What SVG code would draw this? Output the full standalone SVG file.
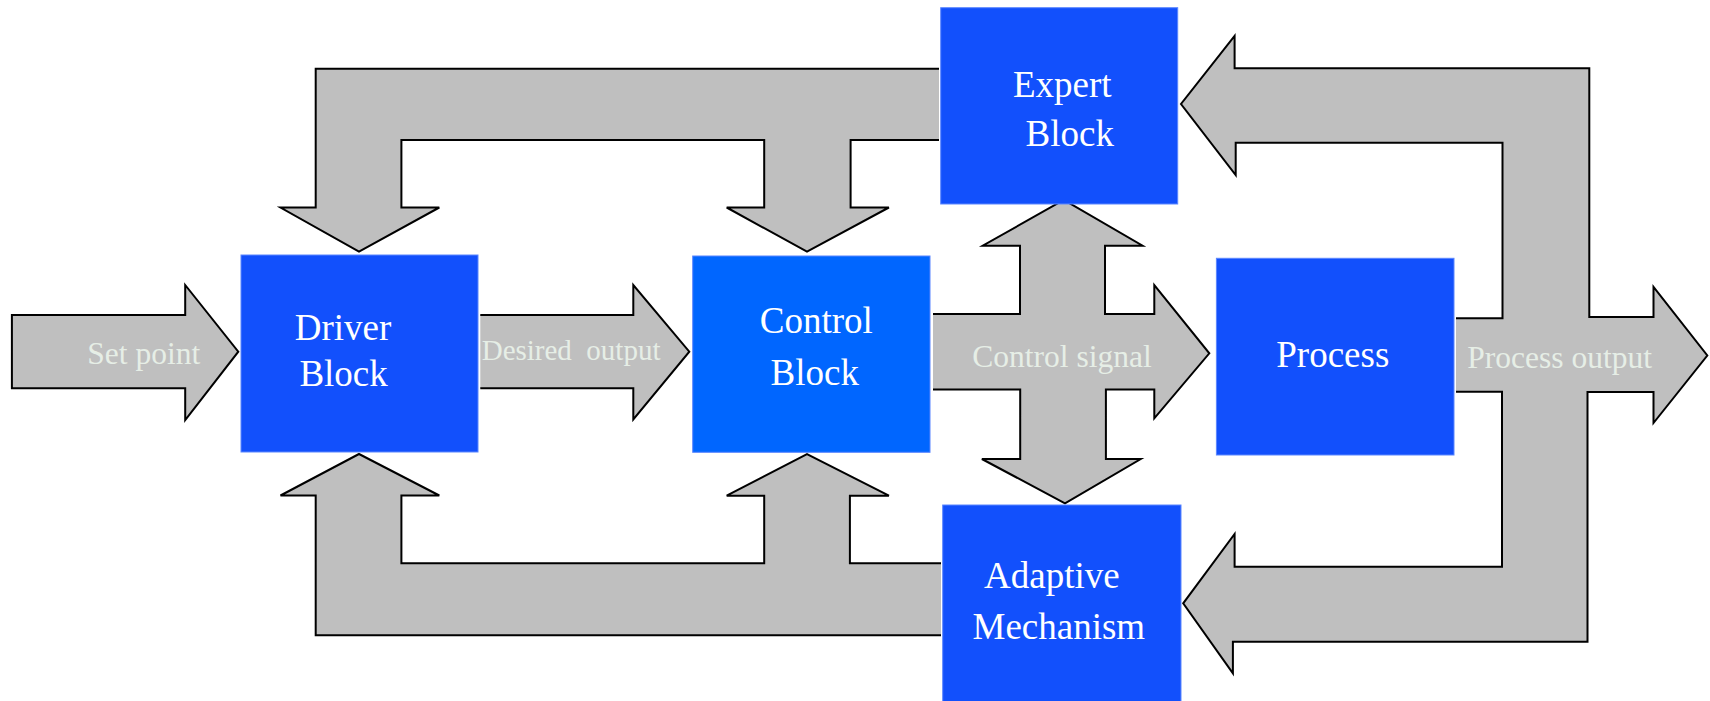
<svg xmlns="http://www.w3.org/2000/svg" width="1710" height="701" viewBox="0 0 1710 701">
  <style>
    .arrow { fill: #bfbfbf; stroke: #000; stroke-width: 2; stroke-linejoin: miter; }
    .block { fill: #1250fc; stroke: #5b86ff; stroke-width: 1; }
    .block.bright { fill: #0066ff; }
    .name { font-family: "Liberation Serif", "Times New Roman", serif; font-size: 37px; fill: #ffffff; text-anchor: middle; }
    .flow { font-family: "Liberation Serif", "Times New Roman", serif; font-size: 31.5px; fill: #e6eee6; white-space: pre; }
  </style>
  <rect width="1710" height="701" fill="#ffffff"/>

  <!-- block arrows between the blocks -->
  <g id="connectors">
    <!-- set point into driver -->
    <path class="arrow" d="M 11.9,315 L 185.2,315 L 185.2,285 L 238.3,351.7 L 185.2,420 L 185.2,388.3 L 11.9,388.3 Z"/>
    <!-- driver to control -->
    <path class="arrow" d="M 480.3,315 L 633.3,315 L 633.3,285 L 689.3,351.7 L 633.3,419.5 L 633.3,388.3 L 480.3,388.3"/>
    <!-- expert feedback down to driver and control -->
    <path class="arrow" d="M 939,68.7 L 315.7,68.7 L 315.7,207.5 L 280.5,207.5 L 359,251.7 L 439.3,207.5 L 401.4,207.5 L 401.4,140 L 764.2,140 L 764.2,207.5 L 726.7,207.5 L 807,251.7 L 888.9,207.5 L 850.6,207.5 L 850.6,140 L 939,140"/>
    <!-- adaptive feedback up to driver and control -->
    <path class="arrow" d="M 941,635.3 L 315.7,635.3 L 315.7,495.5 L 280.5,495.5 L 359,454 L 439.3,495.5 L 401.4,495.5 L 401.4,563.3 L 764.2,563.3 L 764.2,495.7 L 726.7,495.7 L 807,454 L 888.9,495.7 L 849.9,495.7 L 849.9,563.3 L 941,563.3"/>
    <!-- control signal, branching to expert and adaptive -->
    <path class="arrow" d="M 933,314 L 1020,314 L 1020,245.7 L 982.7,245.7 L 1063.8,200 L 1142.6,245.7 L 1105,245.7 L 1105,314 L 1154.3,314 L 1154.3,285 L 1209.3,353.3 L 1154.3,418.3 L 1154.3,389.5 L 1105.9,389.5 L 1105.9,459 L 1140.7,459 L 1065,503.3 L 981.9,459 L 1020.2,459 L 1020.2,389.5 L 933,389.5"/>
    <!-- process output, looping back to expert and adaptive -->
    <path class="arrow" d="M 1456,318.3 L 1502.5,318.3 L 1502.5,142.7 L 1235.7,142.7 L 1235.7,175 L 1181,104 L 1234.6,36 L 1234.6,68.3 L 1589.3,68.3 L 1589.3,317 L 1653.5,317 L 1653.5,287 L 1707.3,355.5 L 1653.5,423 L 1653.5,392 L 1587.5,392 L 1587.5,641.7 L 1232.9,641.7 L 1232.9,673.3 L 1183.2,603.3 L 1234.6,534 L 1234.6,566.7 L 1502,566.7 L 1502,391.7 L 1456,391.7"/>

    <text class="flow" x="87.3" y="364.3">Set point</text>
    <text class="flow" x="481.7" y="360" style="font-size:29px">Desired  output</text>
    <text class="flow" x="972.3" y="367.3">Control signal</text>
    <text class="flow" x="1467.3" y="368.3">Process output</text>
  </g>

  <g id="driver-block">
    <rect class="block" x="241" y="255" width="237" height="197"/>
    <text class="name" x="343" y="340">Driver</text>
    <text class="name" x="343.6" y="386">Block</text>
  </g>

  <g id="control-block">
    <rect class="block bright" x="692.7" y="256" width="237.3" height="196.3"/>
    <text class="name" x="816.3" y="333.3">Control</text>
    <text class="name" x="814.7" y="385">Block</text>
  </g>

  <g id="expert-block">
    <rect class="block" x="940.7" y="7.7" width="237" height="196.3"/>
    <text class="name" x="1062.2" y="97.3">Expert</text>
    <text class="name" x="1069.7" y="146">Block</text>
  </g>

  <g id="process-block">
    <rect class="block" x="1216.4" y="258.3" width="237.6" height="196.7"/>
    <text class="name" x="1332.8" y="367">Process</text>
  </g>

  <g id="adaptive-mechanism">
    <rect class="block" x="942.7" y="505" width="238.3" height="197"/>
    <text class="name" x="1051.8" y="588.3">Adaptive</text>
    <text class="name" x="1058.8" y="639.3">Mechanism</text>
  </g>
</svg>
